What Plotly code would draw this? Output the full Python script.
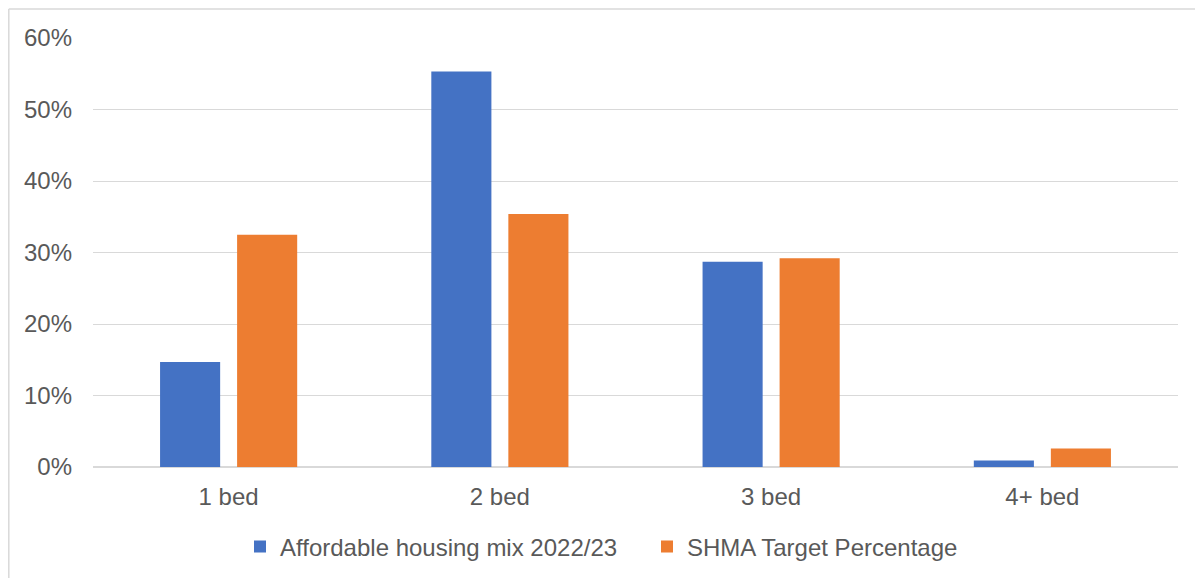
import plotly.graph_objects as go

categories = ["1 bed", "2 bed", "3 bed", "4+ bed"]
series_names = ["Affordable housing mix 2022/23", "SHMA Target Percentage"]
affordable_mix = [0.147, 0.553, 0.287, 0.009]
shma_target = [0.325, 0.354, 0.292, 0.026]
colors = ["#4472C4", "#ED7D31"]
y_ticks = [0, 0.1, 0.2, 0.3, 0.4, 0.5, 0.6]

FONT = "Liberation Sans, Arial, sans-serif"
TXT = "#595959"
FS = 24

fig = go.Figure()
for name, vals, col in zip(series_names, [affordable_mix, shma_target], colors):
    fig.add_trace(go.Bar(
        x=categories, y=vals, name=name,
        marker=dict(color=col, line=dict(width=0)),
    ))

# page has an 8px body margin; figure coords = page coords - 8
OFF = 8
W, H = 1203 - OFF, 578 - OFF
L, T = 93 - OFF, 38 - OFF
R = 1203 - 1178
B = 578 - 467.5
pw, ph = W - L - R, H - T - B

def px_to_paper_x(page_px):
    return (page_px - OFF - L) / pw

def px_to_paper_y(page_py):
    return (H - B - (page_py - OFF)) / ph

fig.update_layout(
    width=W, height=H,
    margin=dict(l=L, r=R, t=T, b=B, pad=0, autoexpand=False),
    paper_bgcolor="white", plot_bgcolor="white",
    barmode="group", bargap=0.432, bargroupgap=0.22,
    font=dict(family=FONT, size=FS, color=TXT),
    showlegend=True,
    legend=dict(
        orientation="h", xanchor="left", yanchor="middle",
        xref="paper", yref="container",
        x=px_to_paper_x(240), y=1 - (547 - OFF) / H,
        font=dict(family=FONT, size=FS, color=TXT),
        itemwidth=30, traceorder="normal", entrywidth=362,
        bgcolor="rgba(0,0,0,0)",
    ),
    xaxis=dict(
        showgrid=False, showline=False, zeroline=False, automargin=False,
        ticks="", tickfont=dict(family=FONT, size=FS, color=TXT),
        ticklabelstandoff=13,
    ),
    yaxis=dict(
        range=[0, 0.6], tickvals=y_ticks, tickformat=".0%", automargin=False,
        showgrid=True, gridcolor="#d9d9d9", gridwidth=1.3,
        zeroline=True, zerolinecolor="#d9d9d9", zerolinewidth=1.6,
        showline=False, ticks="",
        tickfont=dict(family=FONT, size=FS, color=TXT),
        ticklabelstandoff=20,
    ),
    shapes=[
        dict(type="line", xref="paper", yref="paper",
             x0=px_to_paper_x(8.8), x1=px_to_paper_x(8.8),
             y0=px_to_paper_y(9), y1=px_to_paper_y(600),
             line=dict(color="#d9d9d9", width=1.5)),
        dict(type="line", xref="paper", yref="paper",
             x0=px_to_paper_x(8.8), x1=px_to_paper_x(1210),
             y0=px_to_paper_y(9), y1=px_to_paper_y(9),
             line=dict(color="#d9d9d9", width=1.5)),
    ],
)

fig.write_html("out.html")
